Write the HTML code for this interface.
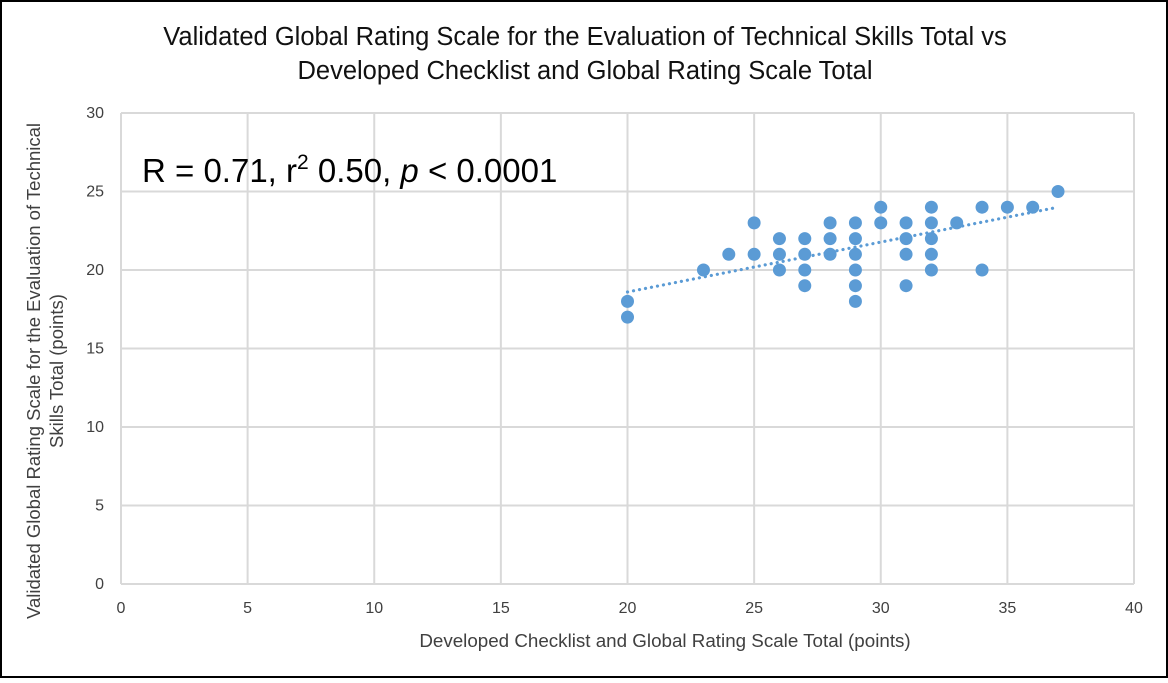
<!DOCTYPE html>
<html><head><meta charset="utf-8"><style>
body{margin:0;background:#fff;font-family:"Liberation Sans",sans-serif}
svg text{font-family:"Liberation Sans",sans-serif;fill:#404040}
</style></head><body>
<svg width="1168" height="678" xmlns="http://www.w3.org/2000/svg">
<rect x="1" y="1" width="1166" height="676" fill="#fff" stroke="#000" stroke-width="2"/>
<text x="585" y="45" text-anchor="middle" font-size="25.5" style="fill:#111">Validated Global Rating Scale for the Evaluation of Technical Skills Total vs</text>
<text x="585" y="79" text-anchor="middle" font-size="25.5" style="fill:#111">Developed Checklist and Global Rating Scale Total</text>
<g id="grid"></g>
<g id="ticks"></g>
<g id="trend"></g>
<g id="pts"></g>
<text x="142" y="182" font-size="33" style="fill:#000">R = 0.71, r<tspan dy="-13" font-size="21">2</tspan><tspan dy="13"> 0.50, </tspan><tspan font-style="italic">p</tspan> &lt; 0.0001</text>
<text x="665" y="647" text-anchor="middle" font-size="18.8">Developed Checklist and Global Rating Scale Total (points)</text>
<text transform="translate(40,371) rotate(-90)" text-anchor="middle" font-size="18.5">Validated Global Rating Scale for the Evaluation of Technical</text>
<text transform="translate(63,371) rotate(-90)" text-anchor="middle" font-size="18.5">Skills Total (points)</text>
</svg>
<script>
const xTicks=[0,5,10,15,20,25,30,35,40];
const yTicks=[0,5,10,15,20,25,30];
const xs=[20,20,23,24,25,25,26,26,26,27,27,27,27,28,28,28,29,29,29,29,29,29,30,30,31,31,31,31,32,32,32,32,32,33,34,34,35,36,37];
const ys=[18,17,20,21,23,21,22,21,20,22,21,20,19,23,22,21,23,22,21,20,19,18,24,23,23,22,21,19,24,23,22,21,20,23,24,20,24,24,25];
const trendX=[20,37];
const trendY=[18.6,24.0];
const X0=121,X1=1134,Y0=584,Y1=113;
const sx=v=>X0+(v-0)/40*(X1-X0);
const sy=v=>Y0-(v-0)/30*(Y0-Y1);
const NS="http://www.w3.org/2000/svg";
function mk(tag,attrs,parent){const e=document.createElementNS(NS,tag);for(const k in attrs)e.setAttribute(k,attrs[k]);parent.appendChild(e);return e;}
const g=document.getElementById('grid'),t=document.getElementById('ticks'),p=document.getElementById('pts'),tr=document.getElementById('trend');
xTicks.forEach(v=>{const l=mk('line',{x1:sx(v),x2:sx(v),y1:Y1,y2:Y0,stroke:'#d9d9d9','stroke-width':2},g);


const tx=mk('text',{x:sx(v),y:613,'text-anchor':'middle','font-size':16},t);tx.textContent=v;

});
yTicks.forEach(v=>{const l=mk('line',{x1:X0,x2:X1,y1:sy(v),y2:sy(v),stroke:'#d9d9d9','stroke-width':2},g);


const tx=mk('text',{x:104,y:sy(v)+5,'text-anchor':'end','font-size':16},t);tx.textContent=v;

});
const tl=mk('line',{x1:sx(trendX[0]),y1:sy(trendY[0]),x2:sx(trendX[1]),y2:sy(trendY[1]),stroke:'#5b9bd5','stroke-width':3.2,'stroke-dasharray':'0.1 6','stroke-linecap':'round'},tr);


xs.forEach((x,i)=>{const c=mk('circle',{cx:sx(x),cy:sy(ys[i]),r:6.5,fill:'#5b9bd5'},p);

});
</script>
</body></html>
